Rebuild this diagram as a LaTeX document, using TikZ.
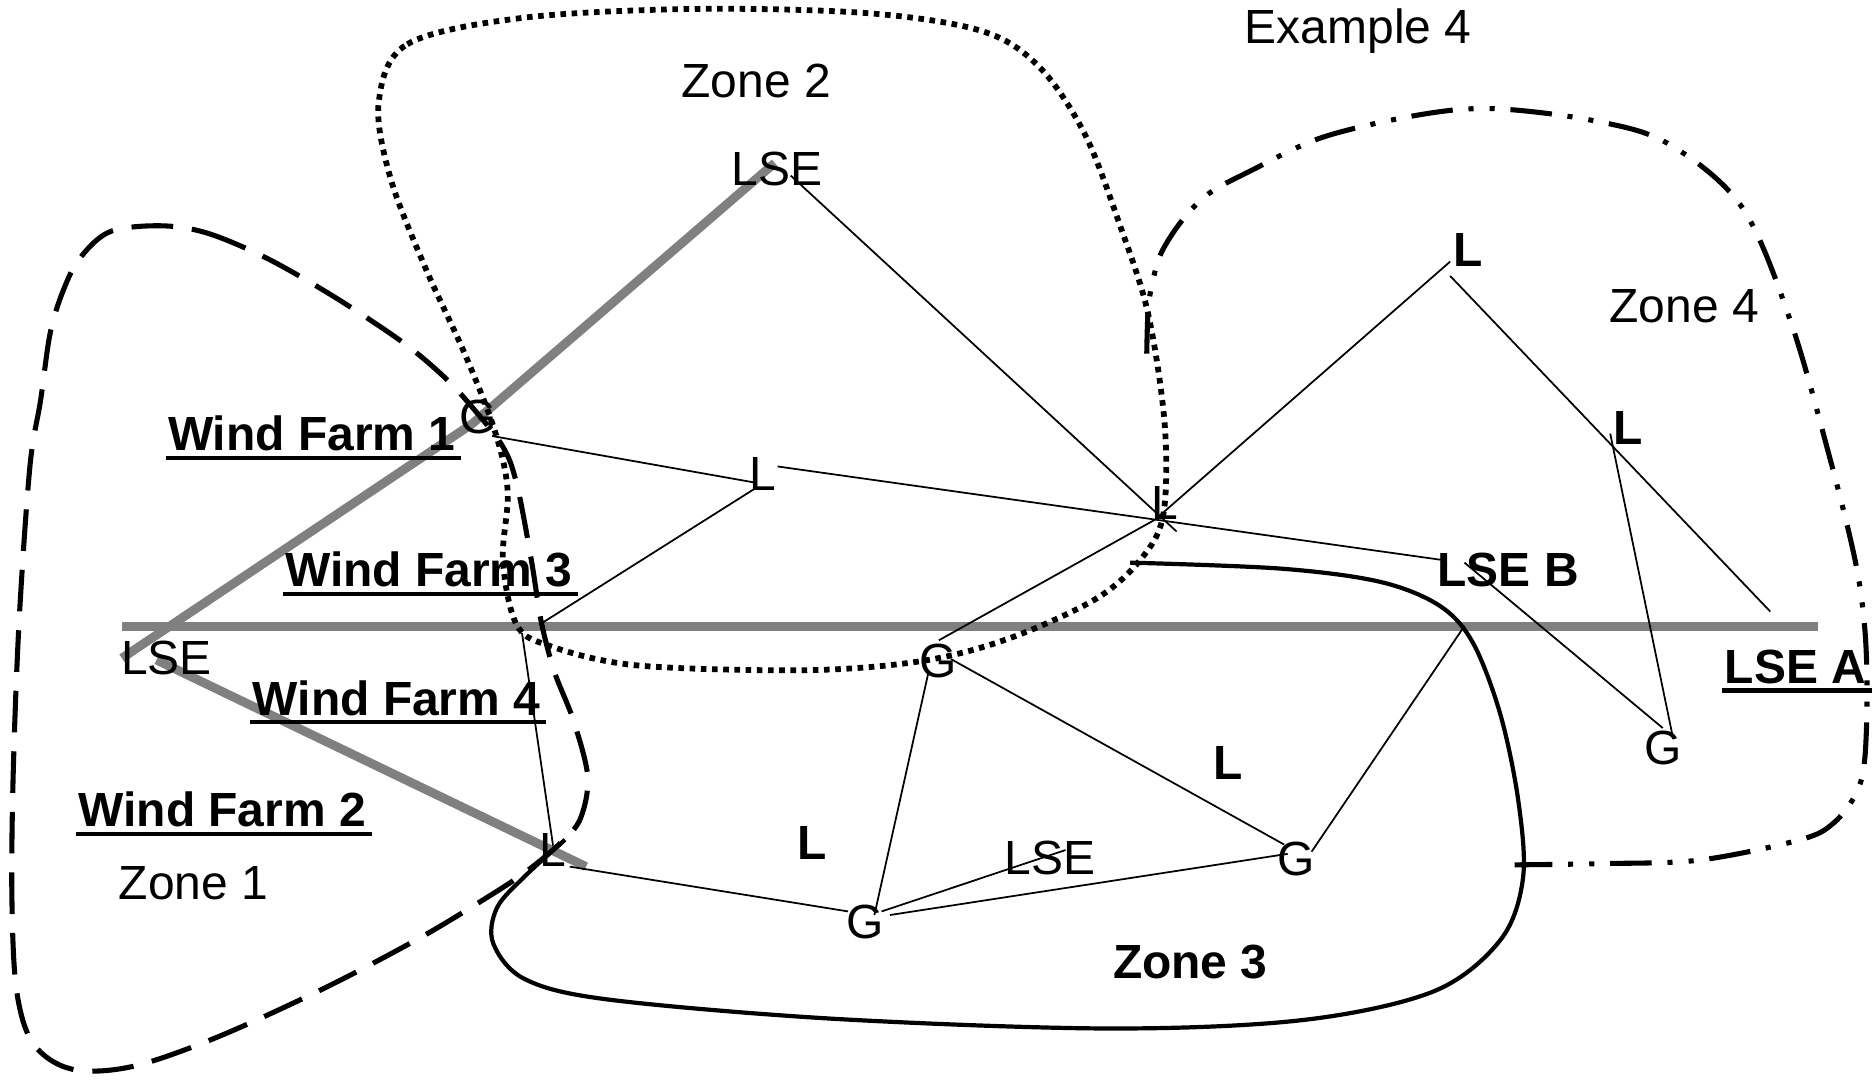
\documentclass[tikz,border=0pt]{standalone}
\usepackage{fontspec}
\setmainfont{Liberation Sans}
\definecolor{barcol}{RGB}{128,128,128}
\begin{document}
\begin{tikzpicture}[x=0.012cm, y=-0.012cm,
  lab/.style={inner sep=0pt, anchor=base, font=\fontsize{13.7}{16}\selectfont},
  blab/.style={inner sep=0pt, anchor=base, font=\fontsize{13.7}{16}\selectfont\bfseries},
  wire/.style={line width=0.5pt, draw=black},
  graybar/.style={line width=2.55pt, draw=barcol},
  uline/.style={line width=1.24pt},
  zoneA/.style={line width=1.45pt, dash pattern=on 11.9pt off 5.4pt},
  zoneB/.style={line width=1.65pt, dash pattern=on 1.6pt off 1.6pt},
  zoneC/.style={line width=1.2pt},
  zoneD/.style={line width=1.45pt, dash pattern=on 11.9pt off 4.5pt on 1.45pt off 4.6pt on 1.45pt off 4.5pt}]
\useasboundingbox (0,0) rectangle (1568,905);
\fill[white] (0,0) rectangle (1568,905);

% ---------- coordinates ----------
\coordinate (gL1) at (102,551);
\coordinate (gWF) at (395,355);
\coordinate (gT) at (648.6,136.4);
\coordinate (gL2) at (131,552.5);
\coordinate (gE2) at (490.6,725.5);
\coordinate (gH1) at (102,524.6);
\coordinate (gH2) at (1522,524.6);

\coordinate (cG1a) at (412,365);
\coordinate (cLm1) at (632,404);
\coordinate (cLm2) at (651,390.5);
\coordinate (cLSEB1) at (1206,468.6);
\coordinate (cLm3) at (632,409);
\coordinate (cJ1) at (451.5,523);
\coordinate (cJ2) at (437,530);
\coordinate (cLb1) at (463,708);
\coordinate (cLSEt1) at (662,147);
\coordinate (cHub) at (967,435);
\coordinate (cHubX) at (985,445);
\coordinate (cGc1) at (786,536);
\coordinate (cLTR1) at (1214,219);
\coordinate (cLTR2) at (1214,231);
\coordinate (cLSEA1) at (1482,512);
\coordinate (cLR1) at (1348,363);
\coordinate (cGFR1) at (1400.6,618);
\coordinate (cLSEB2) at (1226,471);
\coordinate (cGFR2) at (1392,609.5);
\coordinate (cGR1) at (1098,713);
\coordinate (cJ3) at (1226,524);
\coordinate (cGc2) at (777,564);
\coordinate (cGb1) at (732,766);
\coordinate (cGc3) at (796,551.7);
\coordinate (cGR2) at (1075,707);
\coordinate (cLb2) at (477,725.5);
\coordinate (cGb2) at (710,763);
\coordinate (cGb3) at (738,763);
\coordinate (cLSEbot1) at (892,711.6);
\coordinate (cGb4) at (745,766);
\coordinate (cGR3) at (1078,714.8);

% ---------- gray bars ----------
\draw[graybar] (gH1) -- (gH2);
\draw[graybar] (gL1) -- (gWF) -- (gT);
\draw[graybar] (gL2) -- (gE2);

% ---------- zones ----------
% Zone 1 (dashed)
\draw[zoneA] plot[smooth cycle, tension=0.55] coordinates {
 (134,189) (173,195) (223,216) (279,248) (335,285) (368,312) (392,337)
 (421,374) (433,407) (445,470) (453,520) (464,562) (480,603) (492,650)
 (486,685) (470,705) (440,730) (405,753) (350,786) (270,828) (180,869)
 (110,893) (60,895) (28,874) (14,830) (10,754) (11,650) (16,520) (25,391)
 (34,335) (42,279) (53,243) (67,216) (92,194)};
% Zone 2 (dotted)
\draw[zoneB] plot[smooth cycle, tension=0.55] coordinates {
 (317,86) (341,37) (437,15) (581,7.5) (726,11) (822,26) (870,56) (908,112)
 (937,187) (961,262) (975,355) (974,430) (956,467) (918,501) (846,534)
 (774,553) (677,561) (533,557) (458,540) (432,522) (421,469) (425,411)
 (414,360) (389,296) (356,224) (327,149.5)};
% Zone 3 (solid)
\draw[zoneC] plot[smooth, tension=0.55] coordinates {
 (946,471) (1072,476) (1155,487) (1205,507) (1233,538) (1256,598) (1271,670)
 (1275,735) (1256,787) (1200,830) (1090,854) (928,861) (700,853) (511,837)
 (440,820) (413,790) (416,760) (440,733) (473,703)};
% Zone 4 (dash-dot-dot)
\draw[zoneD] plot[smooth, tension=0.55] coordinates {
 (960,296) (961,262) (964,240) (972,212) (990,184) (1012,162) (1045,144)
 (1107,115) (1189,96) (1251,91) (1334,101) (1396,120) (1458,173) (1499,269)
 (1532,384) (1553,469) (1561,525) (1563,580) (1561,636) (1554,664) (1535,689)
 (1507,703) (1423,720) (1340,723) (1268,724)};

% ---------- thin connectors ----------
\draw[wire] (cG1a) -- (cLm1);
\draw[wire] (cLm2) -- (cLSEB1);
\draw[wire] (cLm3) -- (cJ1);
\draw[wire] (cJ2) -- (cLb1);
\draw[wire] (cLSEt1) -- (cHubX);
\draw[wire] (cHub) -- (cGc1);
\draw[wire] (cHub) -- (cLTR1);
\draw[wire] (cLTR2) -- (cLSEA1);
\draw[wire] (cLR1) -- (cGFR1);
\draw[wire] (cLSEB2) -- (cGFR2);
\draw[wire] (cGR1) -- (cJ3);
\draw[wire] (cGc2) -- (cGb1);
\draw[wire] (cGc3) -- (cGR2);
\draw[wire] (cLb2) -- (cGb2);
\draw[wire] (cGb3) -- (cLSEbot1);
\draw[wire] (cGb4) -- (cGR3);

% ---------- labels ----------
\node[lab]  (ex4)   at (1137,36)    {Example 4};
\node[lab]  (z2)    at (633,82)     {Zone 2};
\node[lab]  (lseT)  at (650.5,155)  {LSE};
\node[blab] (lTR)   at (1229,223.5) {L};
\node[lab]  (z4)    at (1410,270)   {Zone 4};
\node[blab] (wf1)   at (261,377.3)  {Wind Farm 1};
\node[lab]  (gWF1)  at (400,363)    {G};
\node[lab]  (lMid)  at (639,411)    {L};
\node[lab]  (lHub)  at (975.5,435)  {L};
\node[blab] (lR)    at (1363,372.5) {L};
\node[blab] (wf3)   at (359,491)    {Wind Farm 3};
\node[blab] (lseB)  at (1262.5,491) {LSE B};
\node[lab]  (lseL)  at (139.5,565)  {LSE};
\node[lab]  (gC)    at (785,567)    {G};
\node[blab] (wf4)   at (332,598.6)  {Wind Farm 4};
\node[blab] (lseA)  at (1503,572)   {LSE A};
\node[lab]  (gFR)   at (1392.5,639.6) {G};
\node[blab] (lB1)   at (1028,652.7) {L};
\node[blab] (wf2)   at (186,692)    {Wind Farm 2};
\node[blab] (lB2)   at (680,719.5)  {L};
\node[lab]  (lBot)  at (463,725.5)  {L};
\node[lab]  (lseBot) at (879,731.7) {LSE};
\node[lab]  (gR)    at (1085,733)   {G};
\node[lab]  (z1)    at (162,753)    {Zone 1};
\node[lab]  (gBot)  at (724,786)    {G};
\node[blab] (z3)    at (996.5,819)  {Zone 3};

% underlines
\foreach \n in {wf1,wf3,wf4,wf2,lseA}{
  \draw[uline] ([yshift=-2.05pt,xshift=-0.5pt]\n.base west) -- ([yshift=-2.05pt,xshift=1.5pt]\n.base east);
}
\end{tikzpicture}
\end{document}
